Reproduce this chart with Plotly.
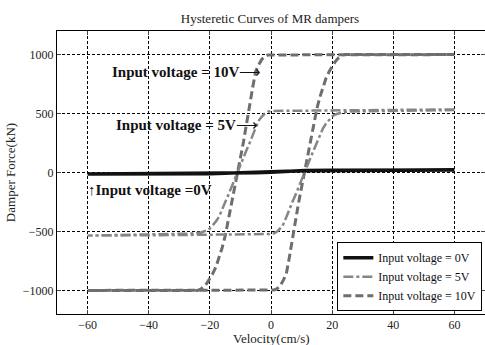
import plotly.graph_objects as go

# ---- data ----
# 0 V loop (velocity cm/s, force kN)
v0_x = [-60, -20, -11, -5, 0, 5, 11, 20, 60, 60, 20, 11, 5, 0, -5, -11, -20, -60]
v0_f = [-12, -10, -8, -3, 3, 12, 18, 20, 22, 22, 20, 15, 10, 5, -2, -8, -10, -12]

# 5 V loop: decreasing-velocity branch then increasing-velocity branch
v5_dec_x = [60, 30, 0, -1, -2, -3, -4, -5, -6, -7, -8, -9, -10, -11, -12, -13, -14, -15,
            -16, -17, -18, -19, -20, -21, -23, -26, -40, -60]
v5_dec_f = [535, 530, 522, 515, 500, 475, 440, 380, 310, 250, 190, 130, 65, 0, -65, -130,
            -195, -260, -320, -375, -415, -450, -475, -492, -508, -518, -525, -530]
v5_inc_x = [-60, -30, 0, 1, 2, 3, 4, 5, 6, 7, 8, 9, 10, 11, 12, 13, 14, 15,
            16, 17, 18, 19, 20, 21, 23, 26, 40, 60]
v5_inc_f = [-535, -530, -522, -515, -500, -475, -440, -380, -310, -250, -190, -130, -65, 0,
            65, 130, 195, 260, 320, 375, 415, 450, 475, 492, 508, 518, 525, 530]

# 10 V loop
v10_dec_x = [60, 30, 0, -1, -2, -3, -4, -5, -6, -7, -8, -9, -10, -11, -12, -13, -14, -15,
             -16, -17, -18, -19, -20, -21, -22, -23, -24, -40, -60]
v10_dec_f = [1000, 1000, 1000, 997, 985, 960, 915, 860, 720, 560, 400, 260, 125, -10, -150,
             -280, -420, -540, -640, -730, -800, -855, -900, -940, -970, -990, -1000, -1000, -1000]
v10_inc_x = [-60, -30, 0, 1, 2, 3, 4, 5, 6, 7, 8, 9, 10, 11, 12, 13, 14, 15,
             16, 17, 18, 19, 20, 21, 22, 23, 24, 40, 60]
v10_inc_f = [-1000, -1000, -1000, -997, -985, -960, -915, -860, -720, -560, -400, -260, -125,
             10, 150, 280, 420, 540, 640, 730, 800, 855, 900, 940, 970, 990, 1000, 1000, 1000]

x_ticks = [-60, -40, -20, 0, 20, 40, 60]
y_ticks = [-1000, -500, 0, 500, 1000]

names = ["Input voltage = 0V", "Input voltage = 5V", "Input voltage = 10V"]

SERIF = "Liberation Serif, Times New Roman, serif"

fig = go.Figure()
fig.add_trace(go.Scatter(x=v10_dec_x + v10_inc_x, y=v10_dec_f + v10_inc_f, mode="lines",
                         name=names[2], line=dict(color="#6e6e6e", width=3, dash="8px,4px")))
fig.add_trace(go.Scatter(x=v5_dec_x + v5_inc_x, y=v5_dec_f + v5_inc_f, mode="lines",
                         name=names[1], line=dict(color="#858585", width=2.5, dash="10px,3px,3px,3px")))
fig.add_trace(go.Scatter(x=v0_x, y=v0_f, mode="lines",
                         name=names[0], line=dict(color="#111111", width=3.5)))

fig.update_layout(
    width=485, height=345,
    margin=dict(l=57, r=0, t=31, b=31),
    paper_bgcolor="white", plot_bgcolor="white",
    font=dict(family=SERIF, size=12, color="#222"),
    title=dict(text="Hysteretic Curves of MR dampers", x=270 / 485, xanchor="center",
               y=1 - 18 / 345, yanchor="middle", yref="container",
               font=dict(family=SERIF, size=13, color="#222")),
    legend=dict(x=0.655, y=0.01, xanchor="left", yanchor="bottom", traceorder="reversed",
                bgcolor="white", bordercolor="black", borderwidth=1,
                font=dict(family=SERIF, size=12, color="#111"),
                tracegroupgap=0, itemwidth=30),
    showlegend=True,
)
fig.update_xaxes(range=[-70, 70], tickvals=x_ticks, ticks="inside", ticklen=4,
                 showline=True, linecolor="black", linewidth=1, mirror="ticks",
                 showgrid=True, gridcolor="black", gridwidth=1, griddash="3px,2px",
                 zeroline=False, tickfont=dict(family=SERIF, size=12), automargin=False)
fig.update_yaxes(range=[-1200, 1200], tickvals=y_ticks, ticks="inside", ticklen=4,
                 showline=True, linecolor="black", linewidth=1, mirror="ticks",
                 showgrid=True, gridcolor="black", gridwidth=1, griddash="3px,2px",
                 zeroline=False, tickfont=dict(family=SERIF, size=12), automargin=False,
                 title=dict(text="Damper Force(kN)", font=dict(family=SERIF, size=13), standoff=4))

# x-axis title placed just below the tick labels
fig.add_annotation(x=0.5, y=-(338 - 314) / 283, xref="paper", yref="paper",
                   text="Velocity(cm/s)", showarrow=False, xanchor="center", yanchor="middle",
                   font=dict(family=SERIF, size=13, color="#222"))

fig.add_annotation(x=-52.8, y=852, text="<b>Input voltage = 10V</b>⟶", showarrow=False,
                   xanchor="left", yanchor="middle", font=dict(family=SERIF, size=15, color="#111"))
fig.add_annotation(x=-51.2, y=403, text="<b>Input voltage = 5V</b>⟶", showarrow=False,
                   xanchor="left", yanchor="middle", font=dict(family=SERIF, size=15, color="#111"))
fig.add_annotation(x=-60.5, y=-148, text="↑<b>Input voltage =0V</b>", showarrow=False,
                   xanchor="left", yanchor="middle", font=dict(family=SERIF, size=15, color="#111"))

fig.write_html("out.html")
